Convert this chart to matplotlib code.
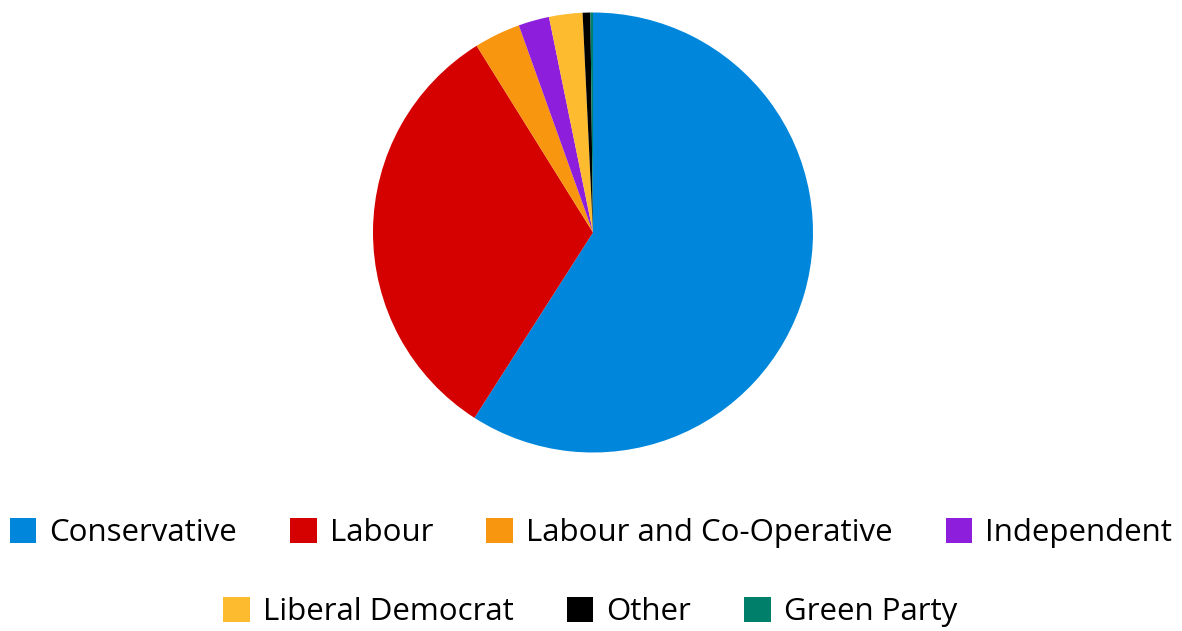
import matplotlib.pyplot as plt
from matplotlib.patches import Patch

# seats by party
parties = ['Conservative', 'Labour', 'Labour and Co-Operative', 'Independent',
           'Liberal Democrat', 'Other', 'Green Party']
seats = [313, 170, 18, 12, 13, 3, 1]
colores = ['#0087DC', '#D50000', '#F8960F', '#8C1EDC', '#FDBB30', '#000000', '#00806A']

plt.rcParams['font.family'] = ['Open Sans', 'DejaVu Sans']

fig = plt.figure(figsize=(11.82, 6.31), dpi=100)
ax = fig.add_axes([(593 - 220) / 1182, (631 - 452.5) / 631, 440 / 1182, 440 / 631])
wedges, _ = ax.pie(seats, colors=colores, startangle=90, counterclock=False,
                   wedgeprops={'linewidth': 0})
ax.set_xlim(-1, 1)
ax.set_ylim(-1, 1)
ax.axis('off')

handles = [Patch(facecolor=c, edgecolor='none') for c in colores]
opts = dict(frameon=False, fontsize=22.5, handlelength=0.85, handleheight=0.85,
            handletextpad=0.42, columnspacing=1.7, borderpad=0, borderaxespad=0)
fig.legend(handles[:4], parties[:4], ncol=4, loc='center',
           bbox_to_anchor=(591 / 1182, 1 - 533 / 631), **opts)
# second row sits at the very bottom edge, kept just inside the canvas
fig.legend(handles[4:], parties[4:], ncol=3, loc='center',
           bbox_to_anchor=(590 / 1182, 1 - 612 / 631), **opts)

fig.savefig('out.png', dpi=100)
